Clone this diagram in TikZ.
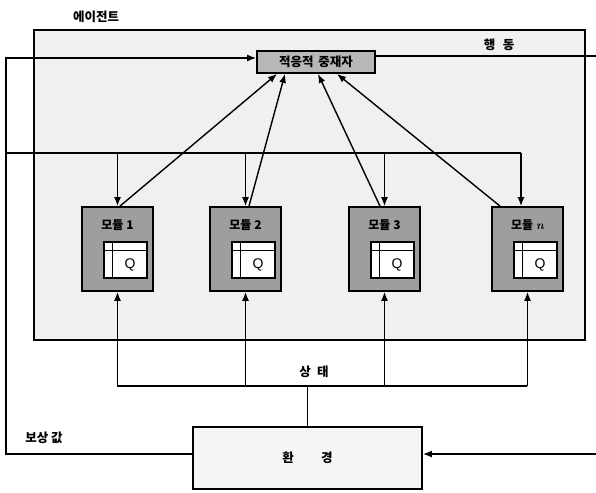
\documentclass[tikz,border=0pt]{standalone}
\usepackage{fontspec}
\newfontfamily\kr{Noto Sans CJK KR}
\setsansfont{Liberation Sans}
\usetikzlibrary{arrows.meta}
\tikzset{
  conn/.style={line width=1.4pt},
  arr/.style={conn,-{Latex[length=9pt,width=7pt]}},
  agentbox/.style={draw,line width=2pt,fill=black!6,minimum width=551pt,minimum height=310pt,inner sep=0},
  medbox/.style={draw,line width=1.8pt,fill=black!28,minimum width=118pt,minimum height=22pt,inner sep=0,font=\kr\bfseries\fontsize{12.5}{14}\selectfont},
  modbox/.style={draw,line width=1.8pt,fill=black!38,minimum width=71pt,minimum height=84pt,inner sep=0},
  qbox/.style={draw,line width=1.1pt,fill=white,minimum width=43pt,minimum height=36pt,inner sep=0},
  envbox/.style={draw,line width=1.8pt,fill=black!4,minimum width=229pt,minimum height=62pt,inner sep=0},
  lbl/.style={font=\kr\bfseries\fontsize{12.5}{14}\selectfont,inner sep=0},
  modlbl/.style={font=\kr\bfseries\fontsize{12}{14}\selectfont,inner sep=0},
  qlbl/.style={font=\sffamily\fontsize{14}{16}\selectfont,inner sep=0}
}
\begin{document}
\begin{tikzpicture}[x=1pt,y=-1pt]
\useasboundingbox (0,0) rectangle (596,492);
% agent
\node[agentbox] (agent) at (309.5,185) {};
\node[lbl] (agentlbl) at (96,17) {에이전트};
\node[lbl] (actlbl) at (499,45) {행\hspace{0.6em}동};
% mediator
\node[medbox] (med) at (316,62) {적응적\hspace{0.4em}중재자};
% modules
\foreach \i/\x/\t in {1/117.5/1,2/245.5/2,3/384.5/3,n/527.5/{\rmfamily\itshape n}}{
  \node[modbox] (m\i) at (\x,249) {};
  \node[modlbl] (m\i t) at (\x,225) {모듈 \t};
  \node[qbox] (q\i) at (\x+8,260) {};
  \draw[line width=1pt] ([xshift=9pt]q\i.north west) -- ([xshift=9pt]q\i.south west);
  \draw[line width=1pt] ([yshift=-9pt]q\i.north west) -- ([yshift=-9pt]q\i.north east);
  \node[qlbl] (q\i l) at (\x+12.5,265) {Q};
}
% environment
\node[envbox] (env) at (307.5,458) {};
\node[lbl] (envlbl) at (307.5,458) {환\hspace{2.2em}경};
\node[lbl] (rwlbl) at (44,438) {보상 값};
\node[lbl] (stlbl) at (314,372) {상\hspace{0.5em}태};
% coordinates
\coordinate (rl) at (6,454);
\coordinate (tl) at (6,58);
\coordinate (al) at (6,153);
\coordinate (ar) at (596,56);
\coordinate (er) at (596,454);
\coordinate (sl) at (117,386);
\coordinate (sr) at (527,386);
% reward path
\draw[arr] ([yshift=4pt]env.west) -- (rl) -- (tl) -- (med.west |- tl);
% action out
\draw[conn] (med.east |- ar) -- (ar);
\draw[arr] (er) -- (env.east |- er);
% action distribution
\draw[conn] (al) -- ([xshift=-6.5pt]mn.north |- al);
\draw[arr] ([xshift=-6.5pt]mn.north |- al) -- ([xshift=-6.5pt]mn.north);
\foreach \i in {1,2,3}{
  \draw[arr] (m\i.north |- al) -- (m\i.north);
}
% module to mediator
\draw[arr] ([xshift=2.5pt]m1.north) -- ([xshift=-39pt]med.south);
\draw[arr] ([xshift=3.5pt]m2.north) -- ([xshift=-31pt]med.south);
\draw[arr] ([xshift=-4.5pt]m3.north) -- ([xshift=2pt]med.south);
\draw[arr] ([xshift=-27.5pt]mn.north) -- ([xshift=21pt]med.south);
% state
\draw[conn] (sl) -- (sr);
\draw[conn] (env.north) -- (env.north |- sl);
\foreach \i in {1,2,3,n}{
  \draw[arr] (m\i.south |- sl) -- (m\i.south);
}
\end{tikzpicture}
\end{document}
